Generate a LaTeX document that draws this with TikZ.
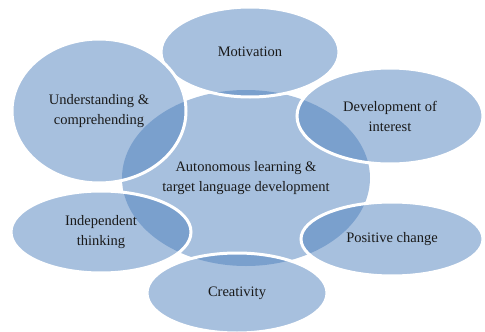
\documentclass[tikz,border=0pt]{standalone}
\usepackage{fontspec}
\setmainfont{Liberation Serif}
\usetikzlibrary{shapes.geometric}
\definecolor{accent}{HTML}{4F81BD}
\definecolor{txt}{HTML}{1A1A1A}
\tikzset{
  blob/.style={ellipse, inner sep=0pt, fill=accent, fill opacity=0.5, text opacity=1,
    text=txt, align=center, font=\fontsize{14.5}{20}\selectfont},
  outer/.style={blob, draw=white, draw opacity=1, line width=3pt},
}
\begin{document}
\begin{tikzpicture}[x=1pt,y=-1pt]
\useasboundingbox (0,0) rectangle (485,332);
\node[blob, minimum width=248pt, minimum height=176pt] (hub) at (246,178)
  {Autonomous learning \&\\target language development};
\node[outer, minimum width=178pt, minimum height=90pt] (mot) at (250,52) {Motivation};
\node[outer, minimum width=186pt, minimum height=96pt] (dev) at (390,116) {Development of\\interest};
\node[outer, minimum width=174pt, minimum height=144pt] (und) at (99,111) {Understanding \&\\comprehending};
\node[outer, minimum width=180pt, minimum height=82pt] (ind) at (101,232) {Independent\\thinking};
\node[outer, minimum width=180pt, minimum height=80pt] (cre) at (237,293) {Creativity};
\node[outer, minimum width=182pt, minimum height=74pt] (pos) at (392,239) {Positive change};
\end{tikzpicture}
\end{document}
